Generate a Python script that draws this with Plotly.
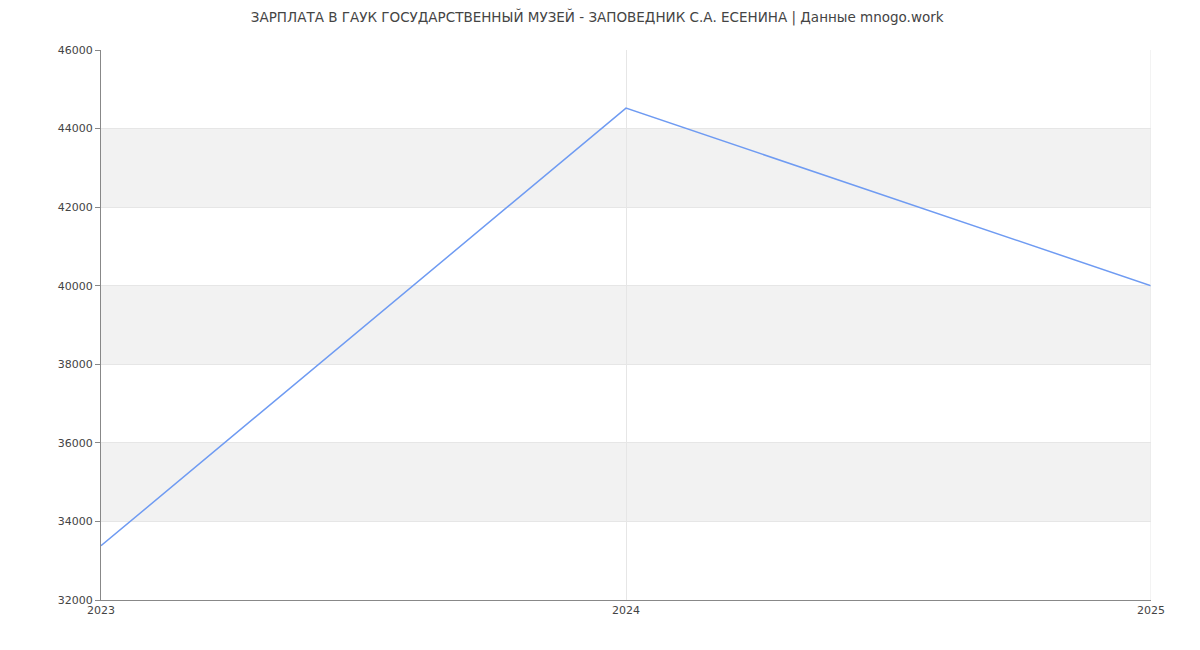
import plotly.graph_objects as go

# data
years = [2023, 2024, 2025]
salary = [33380, 44520, 40000]

y_ticks = [32000, 34000, 36000, 38000, 40000, 42000, 44000, 46000]
title = "ЗАРПЛАТА В ГАУК ГОСУДАРСТВЕННЫЙ МУЗЕЙ - ЗАПОВЕДНИК С.А. ЕСЕНИНА | Данные mnogo.work"

fig = go.Figure()
fig.add_trace(go.Scatter(
    x=years, y=salary, mode="lines",
    line=dict(color="#6f9bf2", width=1.5),
    hoverinfo="x+y", showlegend=False,
))

# alternating grey bands between every other pair of ticks
for i in range(1, len(y_ticks) - 1, 2):
    fig.add_hrect(y0=y_ticks[i], y1=y_ticks[i + 1], fillcolor="#f2f2f2",
                  line_width=0, layer="below")

fig.update_layout(
    title=dict(text=title, x=0.491, y=0.993, xanchor="center", yanchor="top",
               font=dict(size=13.5, color="#444")),
    font=dict(family="DejaVu Sans", size=11, color="#444"),
    plot_bgcolor="white",
    paper_bgcolor="white",
    width=1200, height=650,
    margin=dict(l=93, r=57, t=42, b=58),
)
fig.update_xaxes(
    range=[2023, 2025], tickvals=years, ticktext=[str(y) for y in years],
    showgrid=True, gridcolor="#e6e6e6", gridwidth=1,
    showline=True, linecolor="#888", linewidth=1,
    ticks="", zeroline=False,
)
fig.update_yaxes(
    range=[32000, 46000], tickvals=y_ticks, ticktext=[str(v) for v in y_ticks],
    showgrid=True, gridcolor="#e6e6e6", gridwidth=1,
    showline=True, linecolor="#888", linewidth=1,
    ticks="outside", ticklen=5, tickcolor="#888",
    zeroline=False,
)
# right border line like the reference
fig.add_vline(x=2025, line_color="#e6e6e6", line_width=1)

fig.write_html("out.html")
